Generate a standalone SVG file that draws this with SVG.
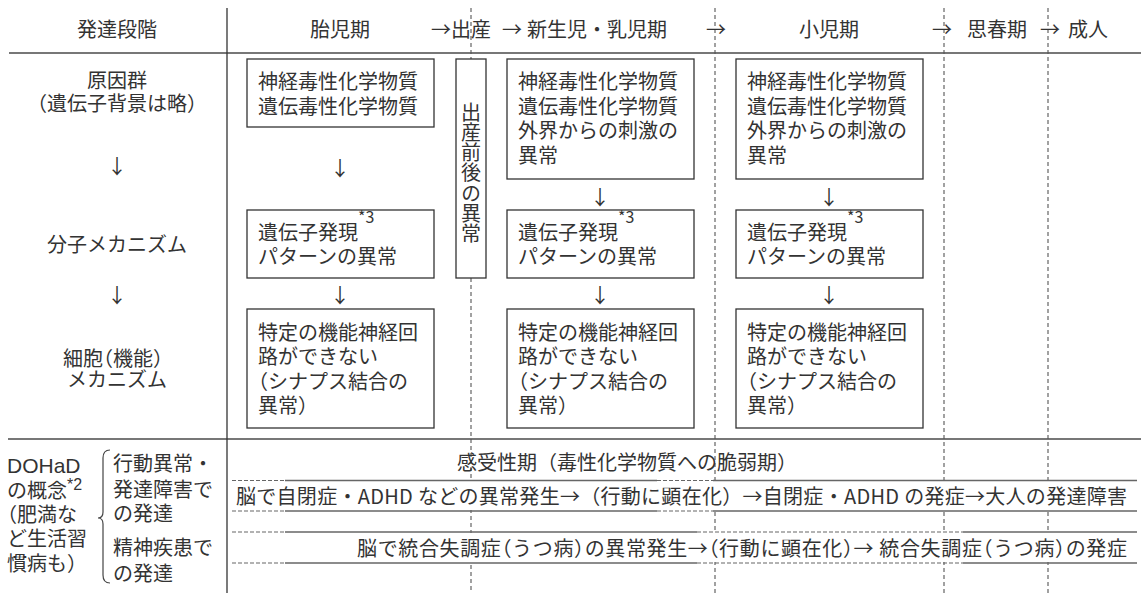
<svg xmlns="http://www.w3.org/2000/svg" width="1141" height="593" viewBox="0 0 1141 593">
<style>
text{font-family:"Noto Sans CJK JP","Noto Sans",sans-serif;font-size:20px;fill:#333}
.m{text-anchor:middle}
.box{fill:#fff;stroke:#333;stroke-width:1.3}
.vd{stroke:#555;stroke-width:1.1;stroke-dasharray:4 3;fill:none}
.rule{stroke:#777;stroke-width:1.8}
.rl{stroke:#666;stroke-width:1.3}
.rd{stroke:#666;stroke-width:1.1;stroke-dasharray:4 2}
.sup{font-size:16px}
.h{font-feature-settings:"halt"}
.lat{font-family:"Liberation Sans","Noto Sans",sans-serif}
.vt{writing-mode:vertical-rl;letter-spacing:0.3px}
</style>
<rect width="1141" height="593" fill="#fff"/>

<g id="grid">
  <line class="rule" x1="9" y1="53" x2="1141" y2="53"/>
  <line class="rule" x1="8" y1="439" x2="1141" y2="439"/>
  <line x1="227" y1="8" x2="227" y2="593" stroke="#333" stroke-width="1.3"/>
  <line class="vd" x1="471" y1="8" x2="471" y2="59"/>
  <line class="vd" x1="471" y1="278" x2="471" y2="593"/>
  <line class="vd" x1="715" y1="8" x2="715" y2="593"/>
  <line class="vd" x1="944" y1="8" x2="944" y2="593"/>
  <line class="vd" x1="1048" y1="8" x2="1048" y2="593"/>
</g>

<g id="header">
  <text class="m" x="117" y="37">発達段階</text>
  <text class="m" x="340" y="37">胎児期</text>
  <text x="431" y="37">→出産</text>
  <text x="502" y="37">→</text>
  <text x="527" y="37">新生児・乳児期</text>
  <text class="m" x="716" y="37">→</text>
  <text class="m" x="829" y="37">小児期</text>
  <text class="m" x="942" y="37">→</text>
  <text x="967" y="37">思春期</text>
  <text class="m" x="1050" y="37">→</text>
  <text x="1068" y="37">成人</text>
</g>

<g id="stage-cause">
  <text class="m" x="117" y="87.5"><tspan x="117">原因群</tspan><tspan x="117" dy="23">（遺伝子背景は略）</tspan></text>
</g>
<g id="stage-molecular">
  <text class="m" x="117" y="251.5">分子メカニズム</text>
</g>
<g id="stage-cell">
  <text class="m h" x="113" y="365.5"><tspan x="113">細胞（機能）</tspan><tspan x="117" dy="21">メカニズム</tspan></text>
</g>

<g id="connectors">
  <text class="m" x="117" y="173.5">↓</text>
  <text class="m" x="117" y="302.5">↓</text>
  <text class="m" x="340" y="175.5">↓</text>
  <text class="m" x="600" y="204.5">↓</text>
  <text class="m" x="829" y="204.5">↓</text>
  <text class="m" x="340" y="302.5">↓</text>
  <text class="m" x="600" y="302.5">↓</text>
  <text class="m" x="829" y="302.5">↓</text>
</g>

<g id="fetal-cause">
  <rect class="box" x="247" y="59" width="187" height="68"/>
  <text x="258" y="89"><tspan x="258">神経毒性化学物質</tspan><tspan x="258" dy="24.5">遺伝毒性化学物質</tspan></text>
</g>
<g id="fetal-gene">
  <rect class="box" x="247" y="210" width="187" height="68"/>
  <text x="258" y="239.5"><tspan x="258">遺伝子発現</tspan><tspan class="sup" dy="-17">*3</tspan><tspan x="258" dy="41.5">パターンの異常</tspan></text>
</g>
<g id="fetal-cell">
  <rect class="box" x="247" y="309" width="187" height="119"/>
  <text class="h" x="258" y="339.5"><tspan x="258">特定の機能神経回</tspan><tspan x="258" dy="24.5">路ができない</tspan><tspan x="258" dy="24.5">（シナプス結合の</tspan><tspan x="258" dy="24.5">異常）</tspan></text>
</g>

<g id="perinatal">
  <rect class="box" x="456" y="59" width="30" height="219"/>
  <text class="vt" x="471" y="102">出産前後の異常</text>
</g>

<g id="infant-cause">
  <rect class="box" x="507" y="59" width="187" height="120"/>
  <text x="518" y="89"><tspan x="518">神経毒性化学物質</tspan><tspan x="518" dy="24.5">遺伝毒性化学物質</tspan><tspan x="518" dy="24.5">外界からの刺激の</tspan><tspan x="518" dy="24.5">異常</tspan></text>
</g>
<g id="infant-gene">
  <rect class="box" x="507" y="210" width="187" height="68"/>
  <text x="518" y="239.5"><tspan x="518">遺伝子発現</tspan><tspan class="sup" dy="-17">*3</tspan><tspan x="518" dy="41.5">パターンの異常</tspan></text>
</g>
<g id="infant-cell">
  <rect class="box" x="507" y="309" width="187" height="119"/>
  <text class="h" x="518" y="339.5"><tspan x="518">特定の機能神経回</tspan><tspan x="518" dy="24.5">路ができない</tspan><tspan x="518" dy="24.5">（シナプス結合の</tspan><tspan x="518" dy="24.5">異常）</tspan></text>
</g>

<g id="child-cause">
  <rect class="box" x="736" y="59" width="187" height="120"/>
  <text x="747" y="89"><tspan x="747">神経毒性化学物質</tspan><tspan x="747" dy="24.5">遺伝毒性化学物質</tspan><tspan x="747" dy="24.5">外界からの刺激の</tspan><tspan x="747" dy="24.5">異常</tspan></text>
</g>
<g id="child-gene">
  <rect class="box" x="736" y="210" width="187" height="68"/>
  <text x="747" y="239.5"><tspan x="747">遺伝子発現</tspan><tspan class="sup" dy="-17">*3</tspan><tspan x="747" dy="41.5">パターンの異常</tspan></text>
</g>
<g id="child-cell">
  <rect class="box" x="736" y="309" width="187" height="119"/>
  <text class="h" x="747" y="339.5"><tspan x="747">特定の機能神経回</tspan><tspan x="747" dy="24.5">路ができない</tspan><tspan x="747" dy="24.5">（シナプス結合の</tspan><tspan x="747" dy="24.5">異常）</tspan></text>
</g>

<g id="dohad">
  <text class="h" x="7" y="472.5"><tspan x="7" class="lat" style="font-size:21px">DOHaD</tspan><tspan x="7" dy="25">の概念</tspan><tspan class="sup lat" dy="-8">*2</tspan><tspan x="7" dy="32">（肥満な</tspan><tspan x="7" dy="24.5">ど生活習</tspan><tspan x="7" dy="24.5">慣病も）</tspan></text>
  <path d="M110,450 Q103,450 103,458 L103,512 Q103,518 98,518 Q103,518 103,524 L103,575 Q103,583 110,583" fill="none" stroke="#444" stroke-width="1.2"/>
</g>
<g id="dohad-behavior">
  <text x="113" y="470.5"><tspan x="113">行動異常・</tspan><tspan x="113" dy="26">発達障害で</tspan><tspan x="113" dy="24">の発達</tspan></text>
</g>
<g id="dohad-mental">
  <text x="113" y="554.5"><tspan x="113">精神疾患で</tspan><tspan x="113" dy="26">の発達</tspan></text>
</g>

<g id="sensitive-period">
  <text class="m" x="627" y="470">感受性期（毒性化学物質への脆弱期）</text>
</g>

<g id="row-adhd">
  <rect x="232" y="481" width="905" height="29" fill="#fff"/>
  <line class="rd" x1="232" y1="480.5" x2="285" y2="480.5"/>
  <line class="rl" x1="285" y1="480.5" x2="657" y2="480.5"/>
  <line class="rd" x1="657" y1="480.5" x2="713" y2="480.5"/>
  <line class="rl" x1="713" y1="480.5" x2="1137" y2="480.5"/>
  <line class="rd" x1="232" y1="511" x2="285" y2="511"/>
  <line class="rl" x1="285" y1="511" x2="657" y2="511"/>
  <line class="rd" x1="657" y1="511" x2="713" y2="511"/>
  <line class="rl" x1="713" y1="511" x2="1137" y2="511"/>
  <text x="236" y="503.5" textLength="891" lengthAdjust="spacing">脳で自閉症・ADHD などの異常発生→（行動に顕在化）→自閉症・ADHD の発症→大人の発達障害</text>
</g>

<g id="row-schizo">
  <rect x="232" y="533" width="905" height="29" fill="#fff"/>
  <line class="rd" x1="232" y1="532" x2="285" y2="532"/>
  <line class="rl" x1="285" y1="532" x2="697" y2="532"/>
  <line class="rd" x1="697" y1="532" x2="963" y2="532"/>
  <line class="rl" x1="963" y1="532" x2="1137" y2="532"/>
  <line class="rd" x1="232" y1="563" x2="285" y2="563"/>
  <line class="rl" x1="285" y1="563" x2="697" y2="563"/>
  <line class="rd" x1="697" y1="563" x2="963" y2="563"/>
  <line class="rl" x1="963" y1="563" x2="1137" y2="563"/>
  <text class="h" x="357" y="555.5" textLength="770" lengthAdjust="spacing">脳で統合失調症（うつ病）の異常発生→（行動に顕在化）→ 統合失調症（うつ病）の発症</text>
</g>
</svg>
